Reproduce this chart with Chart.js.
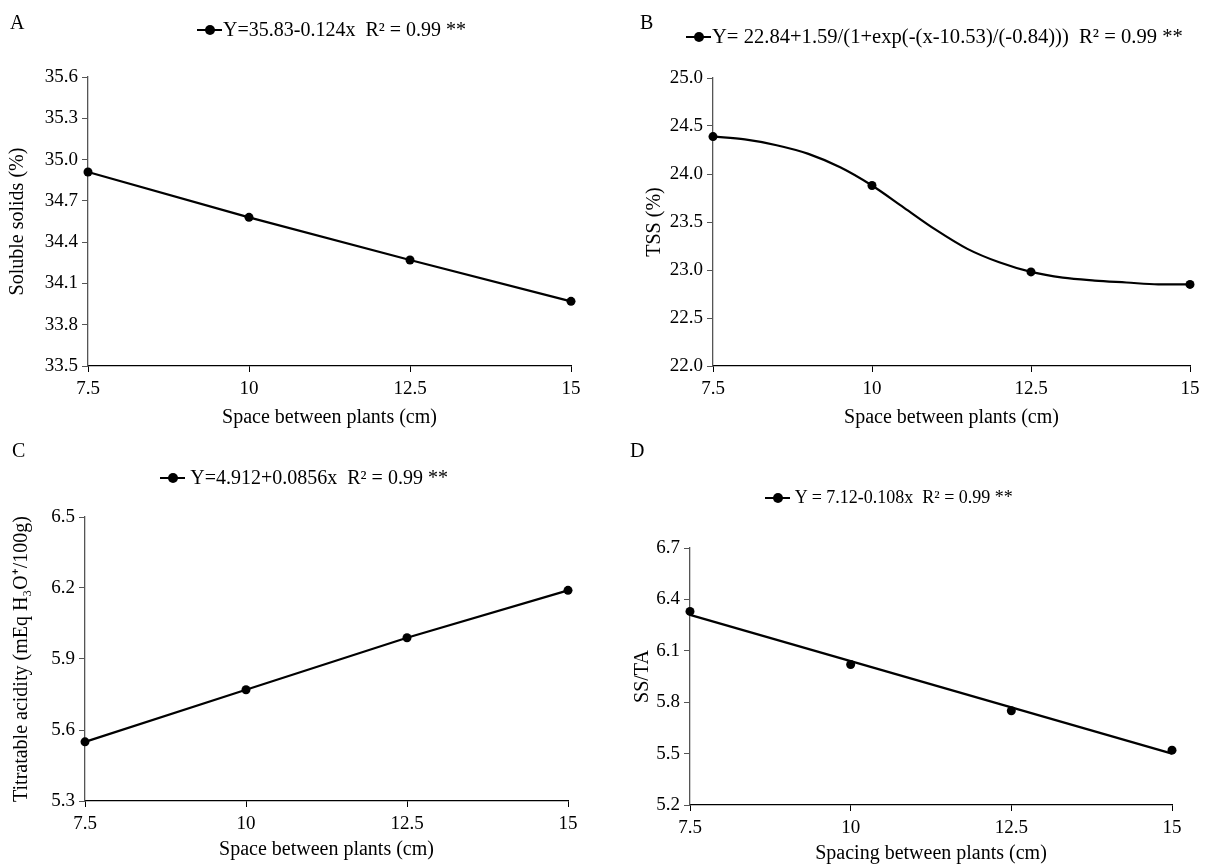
<!DOCTYPE html>
<html>
<head>
<meta charset="utf-8">
<script src="https://cdn.jsdelivr.net/npm/chart.js@4.4.1/dist/chart.umd.min.js"></script>
<style>
  html, body { margin: 0; padding: 0; background: #fff; }
  body { width: 1209px; height: 866px; position: relative; overflow: hidden;
         font-family: "Liberation Serif", "Times New Roman", serif; color: #000; }
  canvas { position: absolute; }
  .lab { position: absolute; font-size: 20px; line-height: 20px; }
  .leg { position: absolute; font-size: 20px; line-height: 22px; white-space: pre; }
  .mk { display: inline-block; position: relative; width: 25px; height: 2px; background: #000;
        vertical-align: middle; margin-right: 1px; top: -1px; }
  .mk::after { content: ""; position: absolute; left: 8px; top: -4px; width: 10px; height: 10px;
               border-radius: 50%; background: #000; }
</style>
</head>
<body>
<canvas id="cA" width="604" height="433" style="left:0;top:0"></canvas>
<canvas id="cB" width="605" height="433" style="left:604px;top:0"></canvas>
<canvas id="cC" width="604" height="433" style="left:0;top:433px"></canvas>
<canvas id="cD" width="605" height="433" style="left:604px;top:433px"></canvas>

<div class="lab" style="left:10px;top:12px">A</div>
<div class="lab" style="left:640px;top:12px">B</div>
<div class="lab" style="left:12px;top:440px">C</div>
<div class="lab" style="left:630px;top:440px">D</div>

<div class="leg" style="left:197px;top:18px"><span class="mk"></span>Y=35.83-0.124x  R² = 0.99 **</div>
<div class="leg" style="left:686px;top:25px;font-size:20.6px"><span class="mk"></span>Y= 22.84+1.59/(1+exp(-(x-10.53)/(-0.84)))  R² = 0.99 **</div>
<div class="leg" style="left:160px;top:466px"><span class="mk"></span> Y=4.912+0.0856x  R² = 0.99 **</div>
<div class="leg" style="left:765px;top:486px;font-size:18px"><span class="mk"></span> Y = 7.12-0.108x  R² = 0.99 **</div>

<script>
// ---------------- data ----------------
const spacing = [7.5, 10, 12.5, 15];
const xTicks = [7.5, 10, 12.5, 15];
const xTickLabels = ['7.5', '10', '12.5', '15'];

// A: soluble solids (%)
const solubleSolids = [34.91, 34.58, 34.27, 33.97];
const yTicksA = [33.5, 33.8, 34.1, 34.4, 34.7, 35.0, 35.3, 35.6];

const tss = [24.39, 23.88, 22.98, 22.85];
const tssCurveX = [7.5, 8, 8.5, 9, 9.5, 10, 10.5, 11, 11.5, 12, 12.5, 13, 13.5, 14, 14.5, 15];
const tssCurveY = [24.39, 24.36, 24.30, 24.21, 24.07, 23.88, 23.65, 23.42, 23.22, 23.08, 22.98, 22.92, 22.89, 22.87, 22.85, 22.85];
const yTicksB = [22.0, 22.5, 23.0, 23.5, 24.0, 24.5, 25.0];

// C: titratable acidity
const acidity = [5.55, 5.77, 5.99, 6.19];
const yTicksC = [5.3, 5.6, 5.9, 6.2, 6.5];

// D: SS/TA observed points and fitted line ends
const ssta = [6.33, 6.02, 5.75, 5.52];
const sstaFitX = [7.5, 15];
const sstaFitY = [6.31, 5.50];
const yTicksD = [5.2, 5.5, 5.8, 6.1, 6.4, 6.7];

// ---------------- helpers ----------------
const FAMILY = '"Liberation Serif", "Times New Roman", serif';
const TICKFONT = { family: FAMILY, size: 19 };
const TITLEFONT = { family: FAMILY, size: 20 };
const pts = (xs, ys) => xs.map((x, i) => ({ x: x, y: ys[i] }));

function makePanel(id, g, datasets, yTicks, yTitle, xTitle) {
  new Chart(document.getElementById(id), {
    type: 'line',
    data: { datasets: datasets },
    options: {
      responsive: false,
      animation: false,
      events: [],
      layout: { padding: { left: 0, top: g.top, right: g.right, bottom: 0 } },
      plugins: { legend: { display: false }, tooltip: { enabled: false } },
      scales: {
        x: {
          type: 'linear', min: xTicks[0], max: xTicks[xTicks.length - 1],
          afterBuildTicks: s => { s.ticks = xTicks.map(v => ({ value: v })); },
          afterFit: s => { s.height = g.xh; },
          ticks: { color: '#000', font: TICKFONT, padding: 6, maxRotation: 0,
                   callback: (v, i) => xTickLabels[i] },
          grid: { display: true, drawOnChartArea: false, drawTicks: true, tickLength: 6, color: '#000' },
          border: { display: true, color: '#000', width: 1.3 },
          title: { display: true, text: xTitle, color: '#000', font: TITLEFONT,
                   padding: { top: 0, bottom: g.xtp } }
        },
        y: {
          type: 'linear', min: yTicks[0], max: yTicks[yTicks.length - 1],
          afterBuildTicks: s => { s.ticks = yTicks.map(v => ({ value: v })); },
          afterFit: s => { s.width = g.yw; },
          ticks: { color: '#000', font: TICKFONT, padding: 4,
                   callback: (v, i) => yTicks[i].toFixed(1) },
          grid: { display: true, drawOnChartArea: false, drawTicks: true, tickLength: 6, color: '#555' },
          border: { display: true, color: '#555', width: 1.3 },
          title: { display: true, text: yTitle, color: '#000', font: TITLEFONT,
                   padding: { top: g.ytp, bottom: 0 } }
        }
      }
    }
  });
}

const lineStyle = { borderColor: '#000', backgroundColor: '#000', borderWidth: 2.2,
                    pointRadius: 4.5, pointBackgroundColor: '#000', pointBorderWidth: 0,
                    fill: false, clip: false, tension: 0 };
const pointsOnly = { showLine: false, borderColor: '#000', backgroundColor: '#000',
                     pointRadius: 4.5, pointBorderWidth: 0, clip: false };
const lineOnly = { borderColor: '#000', borderWidth: 2.2, pointRadius: 0, fill: false, clip: false };

makePanel('cA', { top: 77, right: 33, xh: 67, yw: 88, xtp: 3, ytp: 6 },
  [Object.assign({ data: pts(spacing, solubleSolids) }, lineStyle)],
  yTicksA, 'Soluble solids (%)', 'Space between plants (cm)');

makePanel('cB', { top: 78, right: 19, xh: 67, yw: 109, xtp: 3, ytp: 39 },
  [Object.assign({ data: pts(tssCurveX, tssCurveY), cubicInterpolationMode: 'monotone' }, lineOnly),
   Object.assign({ data: pts(spacing, tss) }, pointsOnly)],
  yTicksB, 'TSS (%)', 'Space between plants (cm)');

makePanel('cC', { top: 84, right: 36, xh: 65, yw: 85, xtp: 4, ytp: 10 },
  [Object.assign({ data: pts(spacing, acidity) }, lineStyle)],
  yTicksC, 'Titratable acidity (mEq H\u2083O\u207A/100g)', 'Space between plants (cm)');

makePanel('cD', { top: 115, right: 37, xh: 61, yw: 86, xtp: 0, ytp: 27 },
  [Object.assign({ data: pts(sstaFitX, sstaFitY) }, lineOnly),
   Object.assign({ data: pts(spacing, ssta) }, pointsOnly)],
  yTicksD, 'SS/TA', 'Spacing between plants (cm)');
</script>
</body>
</html>
